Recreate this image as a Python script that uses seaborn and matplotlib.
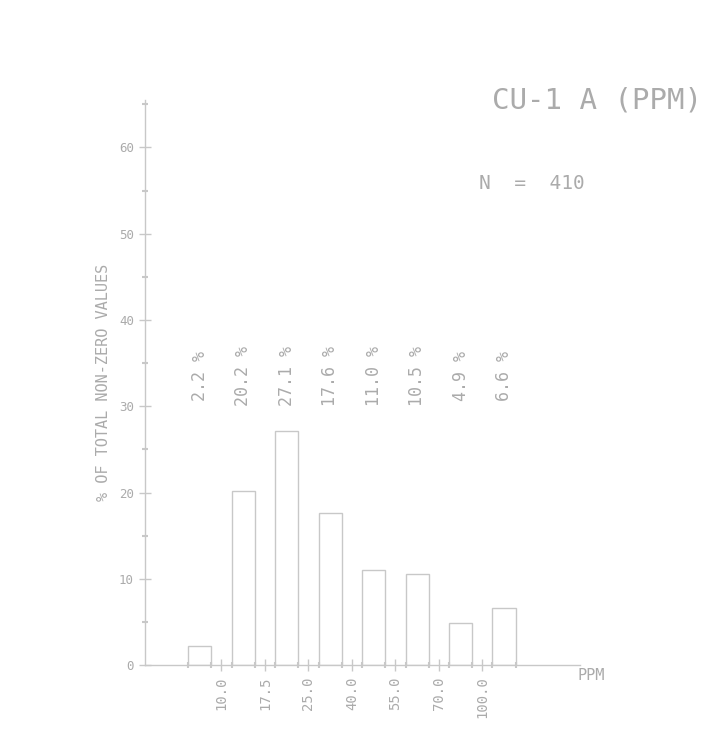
import numpy as np
import pandas as pd
import matplotlib
matplotlib.use("Agg")
import matplotlib.pyplot as plt
import seaborn as sns

# histogram values (% of total non-zero values)
bins = ['b1', 'b2', 'b3', 'b4', 'b5', 'b6', 'b7', 'b8']
pct = [2.2, 20.2, 27.1, 17.6, 11.0, 10.5, 4.9, 6.6]
pct_labels = ['2.2 %', '20.2 %', '27.1 %', '17.6 %', '11.0 %', '10.5 %', '4.9 %', '6.6 %']

# class boundaries shown on the x axis
bound_labels = ['10.0', '17.5', '25.0', '40.0', '55.0', '70.0', '100.0']

title = 'CU-1 A (PPM)'
n_text = 'N  =  410'

line_col = '#c8c8c8'
text_col = '#ababab'

sns.set_style('white')
# plotter-like lettering
plt.rcParams['font.family'] = ['DejaVu Sans Mono', 'DejaVu Sans']

fig = plt.figure(figsize=(7.09, 7.30), dpi=100)
ax = fig.add_axes([0.2045, 0.089, 0.613, 0.774])

df = pd.DataFrame({'bin': bins, 'pct': pct})
sns.barplot(data=df, x='bin', y='pct', ax=ax, width=0.53,
            facecolor='none', edgecolor=line_col, linewidth=1.0)

ax.set_xlim(-1.26, 8.74)
ax.set_ylim(0, 65.5)

# percent labels above the bars
for i, lab in enumerate(pct_labels):
    ax.text(i, 33.5, lab, rotation=90, ha='center', va='center',
            fontsize=12, color=text_col)

# y axis ticks
ax.set_yticks(np.arange(0, 61, 10))
ax.set_yticklabels([str(v) for v in range(0, 61, 10)], fontsize=9, color=text_col)
ax.set_yticks(np.arange(5, 66, 10), minor=True)

# x axis ticks at class boundaries, minor ticks at bar edges
pos = np.arange(len(bound_labels)) + 0.5
ax.set_xticks(pos)
ax.set_xticklabels(bound_labels, rotation=90, fontsize=10, color=text_col)
edges = np.concatenate([np.arange(len(bins)) - 0.265, np.arange(len(bins)) + 0.265])
ax.set_xticks(edges, minor=True)

ax.tick_params(axis='both', which='major', direction='inout', length=8,
               width=1, color=line_col, pad=4)
ax.tick_params(axis='both', which='minor', direction='inout', length=4,
               width=1.5, color=line_col)
ax.tick_params(axis='both', which='both', bottom=True, left=True)

for s in ['top', 'right']:
    ax.spines[s].set_visible(False)
for s in ['left', 'bottom']:
    ax.spines[s].set_color(line_col)
    ax.spines[s].set_linewidth(1.0)

ax.set_xlabel('')
ax.set_ylabel('% OF TOTAL NON-ZERO VALUES', fontsize=11, color=text_col, labelpad=6)

fig.text(0.815, 0.074, 'PPM', fontsize=11, color=text_col, ha='left', va='center')
fig.text(0.99, 0.862, title, fontsize=21, color=text_col, ha='right', va='center')
fig.text(0.675, 0.748, n_text, fontsize=14, color=text_col, ha='left', va='center')

fig.savefig('out.png', dpi=100)
